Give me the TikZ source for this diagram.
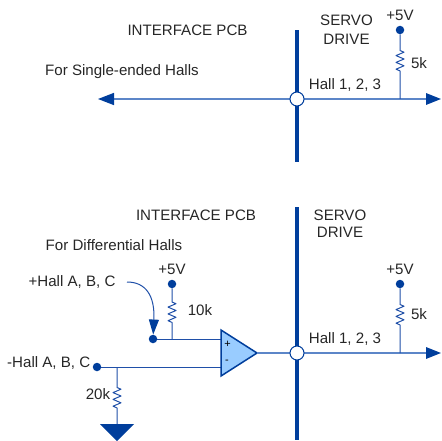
\documentclass[tikz,border=0pt]{standalone}
\usepackage{fontspec}
\setmainfont{Liberation Sans}
\usetikzlibrary{arrows.meta,shapes.geometric}
\definecolor{navy}{HTML}{003E9C}
\definecolor{wirecol}{HTML}{1F4FA8}
\definecolor{sigcol}{HTML}{5C86C8}
\definecolor{fillop}{HTML}{99CCFF}
\newcommand{\zigwire}[3]{%
  \draw[fine,line join=round] (#1) -- ++(0,#2) -- ++(4,1.7) -- ++(-8,3.4) -- ++(8,3.4) -- ++(-8,3.4) -- ++(8,3.4) -- ++(-8,3.4) -- ++(4,1.7) -- (#3);}
\tikzset{
  lbl/.style={font=\fontsize{15.1}{17}\selectfont,text=black!85,inner sep=0pt},
  heavy/.style={draw=navy,line width=3.6pt},
  sigline/.style={draw=sigcol,line width=1.5pt},
  fine/.style={draw=wirecol,line width=1pt},
  portc/.style={circle,draw=navy,fill=white,line width=1pt,minimum size=14pt,inner sep=0pt},
  blob/.style={circle,fill=navy,minimum size=8.5pt,inner sep=0pt},
  endpt/.style={inner sep=0pt,minimum size=0pt},
  opamp/.style={isosceles triangle,isosceles triangle stretches,draw=navy,fill=fillop,line width=1.5pt,minimum width=46pt,minimum height=36pt,inner sep=0pt,outer sep=0pt,anchor=apex},
  gnd/.style={isosceles triangle,isosceles triangle stretches,shape border rotate=-90,fill=navy,minimum width=34pt,minimum height=17pt,inner sep=0pt,outer sep=0pt,anchor=apex}
}
\begin{document}
\begin{tikzpicture}[x=1pt,y=-1pt]
\useasboundingbox (0,0) rectangle (441,441);
% ---- top
\coordinate (tl) at (98,99);
\coordinate (tr) at (441,99);
\node[endpt] (tbartop) at (297,30) {};
\node[endpt] (tbarbot) at (297,162) {};
\draw[heavy] (tbartop) -- (tbarbot);
\draw[sigline,{Triangle[length=16pt,width=12pt,color=navy]}-{Triangle[length=15pt,width=11.5pt,color=navy]}] (tl) -- (tr);
\node[portc] (tc) at (297,99) {};
\coordinate (tj) at (400,99);
\node[blob] (td) at (400,30) {};
\zigwire{td}{20.5}{tj}
\node[lbl] at (187.5,30) {INTERFACE PCB};
\node[lbl,anchor=west] at (45,72) {For Single-ended Halls};
\node[lbl] at (346.5,20) {SERVO};
\node[lbl] at (346.5,39) {DRIVE};
\node[lbl] at (400,15) {+5V};
\node[lbl] at (419,63) {5k};
\node[lbl] at (345,85) {Hall 1, 2, 3};
% ---- bottom
\node[endpt] (bbartop) at (297,207) {};
\node[endpt] (bbarbot) at (297,440) {};
\draw[heavy] (bbartop) -- (bbarbot);
\coordinate (brt) at (441,353);
\node[blob] (pin) at (153,339) {};
\node[blob] (min) at (97,367) {};
\coordinate (pinend) at (225,339);
\coordinate (minend) at (225,367);
\draw[fine] (pin) -- (pinend);
\draw[fine] (min) -- (minend);
\node[opamp] (op) at (257,353) {};
\draw[sigline,-{Triangle[length=15pt,width=11.5pt,color=navy]}] (op.apex) -- (brt);
\node[portc] (bc) at (297,353) {};
\coordinate (bj) at (400,353);
\node[blob] (bd) at (400,284) {};
\zigwire{bd}{20.5}{bj}
\node[font=\fontsize{11}{12}\selectfont,inner sep=0pt] at (227.5,344.5) {+};
\node[font=\fontsize{11}{12}\selectfont,inner sep=0pt] at (227,362) {-};
% +5V pull-up
\coordinate (vj) at (172,339);
\node[blob] (vd) at (172,284) {};
\zigwire{vd}{18}{vj}
% pull-down
\coordinate (gj) at (117,367);
\node[gnd] (gg) at (117,441) {};
\zigwire{gj}{20.5}{gg.north}
% curved callout
\coordinate (cs) at (127,282);
\draw[fine,-{Triangle[length=15pt,width=10pt,color=navy]}] (cs) .. controls (146,282) and (155,296) .. (pin);
% labels
\node[lbl] at (196,215) {INTERFACE PCB};
\node[lbl] at (340,215) {SERVO};
\node[lbl] at (340,232) {DRIVE};
\node[lbl] at (114,245) {For Differential Halls};
\node[lbl] at (172,269) {+5V};
\node[lbl] at (400,269) {+5V};
\node[lbl] at (72,282) {+Hall A, B, C};
\node[lbl,anchor=west] at (7,363) {-Hall A, B, C};
\node[lbl] at (200,310) {10k};
\node[lbl] at (98,394) {20k};
\node[lbl] at (419,314) {5k};
\node[lbl] at (345,339) {Hall 1, 2, 3};
\end{tikzpicture}
\end{document}
